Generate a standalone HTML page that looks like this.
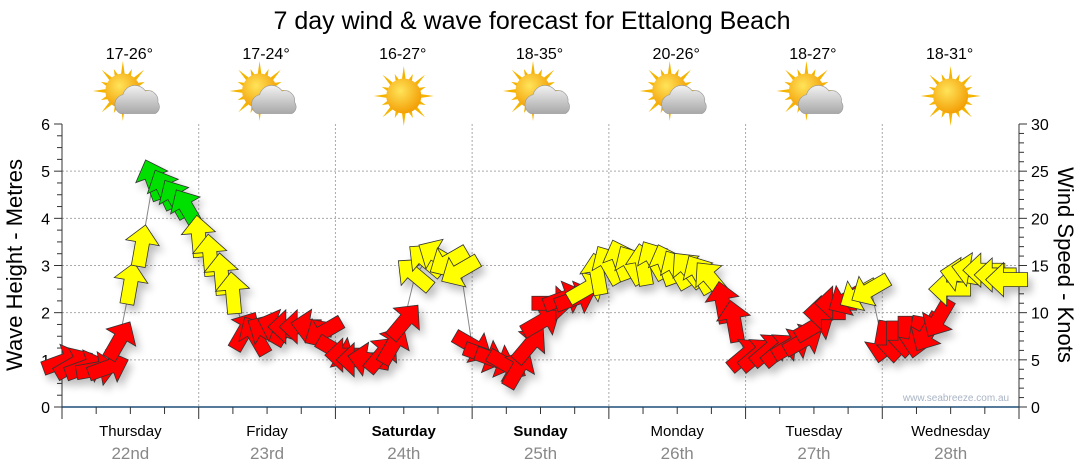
<!DOCTYPE html>
<html><head><meta charset="utf-8"><style>
body{margin:0;background:#fff;font-family:"Liberation Sans",sans-serif}
svg{display:block}
</style></head><body>
<svg id="c" width="1080" height="475" viewBox="0 0 1080 475">
<defs>
<filter id="sh" x="-50%" y="-50%" width="200%" height="200%"><feGaussianBlur in="SourceAlpha" stdDeviation="4"/><feOffset dx="4" dy="6"/><feComponentTransfer><feFuncA type="linear" slope="0.25"/></feComponentTransfer><feMerge><feMergeNode/><feMergeNode in="SourceGraphic"/></feMerge></filter>
<radialGradient id="sun" cx="0.4" cy="0.35" r="0.7"><stop offset="0" stop-color="#ffe45a"/><stop offset="1" stop-color="#f29a00"/></radialGradient>
<linearGradient id="cl" x1="0" y1="0" x2="0" y2="1"><stop offset="0" stop-color="#f2f2f2"/><stop offset="1" stop-color="#a8a8a8"/></linearGradient>
</defs>
<text x="532" y="29" font-size="25" text-anchor="middle">7 day wind &amp; wave forecast for Ettalong Beach</text>
<g id="grid"></g><g id="axes"></g><g id="days"></g><g id="wx"></g>
<polyline id="wl" fill="none" stroke="#888" stroke-width="1"/>
<g id="arrows" filter="url(#sh)"></g>
<text x="956" y="401" font-size="10" fill="#a9b4c4" text-anchor="middle">www.seabreeze.com.au</text>
<text transform="translate(22,265) rotate(-90)" font-size="22" text-anchor="middle">Wave Height - Metres</text>
<text transform="translate(1058,265) rotate(90)" font-size="22" text-anchor="middle">Wind Speed - Knots</text>
</svg>
<script>
const days=["Thursday","Friday","Saturday","Sunday","Monday","Tuesday","Wednesday"];
const dates=["22nd","23rd","24th","25th","26th","27th","28th"];
const temps=["17-26°","17-24°","16-27°","18-35°","20-26°","18-27°","18-31°"];
const icons=["pc","pc","sun","pc","pc","pc","sun"];
const leftTicks=[0,1,2,3,4,5,6];
const rightTicks=[0,5,10,15,20,25,30];
const windKnots=[
4.8,4.5,4.2,4.0,4.2,7,13,17,24,23,22,21,
18,16,14,12,8,7.5,8,8.5,8.5,8.5,8.5,8,
6,5.5,5,5,5.5,6.5,9,14,15.5,16,15.5,14.5,
6.5,5.5,5,4.5,4,6.5,9,11,11.5,11.5,12.5,14,
15,15.5,15,15,15.5,15,14.5,14.5,14,13.5,11,9,
5.5,5.5,6,6,6.5,7,8.5,10,11,11.5,12,12.5,
7,7,7.5,7.5,8,9.5,12.5,14,14.5,14.5,14,13.5];
const windAngle=[
-20,-30,-20,-10,-20,-60,-80,-80,-110,-115,-120,-120,
-95,-95,-95,-95,-60,-120,-150,-160,180,180,-170,150,
30,180,180,-170,-50,-60,-50,-140,-140,-150,150,150,
30,20,20,30,-60,-50,-30,0,-20,-20,-30,-100,
-120,-110,-120,-100,-120,-110,-120,-130,-120,-130,-100,-100,
-40,-40,-40,-40,-30,-30,-30,180,180,150,150,150,
100,90,90,100,120,120,180,-170,-170,180,180,180];
const X0=62,X1=1019,Y0=407,Y1=124,DW=(X1-X0)/7;
const ns="http://www.w3.org/2000/svg";
function el(t,a,p){const e=document.createElementNS(ns,t);for(const k in a)e.setAttribute(k,a[k]);p.appendChild(e);return e;}
const yL=v=>Y0-(v/6)*(Y0-Y1), yR=v=>Y0-(v/30)*(Y0-Y1), xT=h=>X0+h/24*DW;
const g=document.getElementById('grid'),ax=document.getElementById('axes'),dg=document.getElementById('days'),wx=document.getElementById('wx');
leftTicks.forEach(v=>{if(v>0&&v<6){const l=el('line',{x1:X0,x2:X1,y1:yL(v),y2:yL(v),stroke:'#aaa','stroke-dasharray':'2,2'},g);}
 const t=el('text',{x:X0-12,y:yL(v)+6,'font-size':16,'text-anchor':'end'},ax);t.textContent=v;});
rightTicks.forEach(v=>{const t=el('text',{x:X1+12,y:yR(v)+6,'font-size':16},ax);t.textContent=v;});
for(let i=0;i<=24;i++){const y=Y0-i*(Y0-Y1)/24;const L=i%4==0?8:5;el('line',{x1:X0-L,x2:X0,y1:y,y2:y,stroke:'#333'},ax);}
for(let i=0;i<=30;i++){const y=yR(i);const L=i%5==0?8:5;el('line',{x1:X1,x2:X1+L,y1:y,y2:y,stroke:'#333'},ax);}
el('line',{x1:X0,x2:X0,y1:Y1,y2:Y0,stroke:'#333'},ax);el('line',{x1:X1,x2:X1,y1:Y1,y2:Y0,stroke:'#333'},ax);
el('line',{x1:X0,x2:X1,y1:Y0,y2:Y0,stroke:'#1f4e79','stroke-width':1.5},ax);
for(let i=0;i<=28;i++){const x=X0+i*DW/4;el('line',{x1:x,x2:x,y1:Y0,y2:Y0+(i%4==0?12:7),stroke:'#333'},ax);}
days.forEach((d,i)=>{const cx=X0+DW*(i+0.5);
 if(i>0){const l=el('line',{x1:X0+DW*i,x2:X0+DW*i,y1:Y1,y2:Y0,stroke:'#aaa','stroke-dasharray':'2,2'},g);}
 const t=el('text',{x:cx,y:436,'font-size':15,'text-anchor':'middle','font-weight':(i==2||i==3)?'bold':'normal'},dg);t.textContent=d;
 const t2=el('text',{x:cx,y:459,'font-size':17,'text-anchor':'middle',fill:'#888'},dg);t2.textContent=dates[i];
 const t3=el('text',{x:cx-1,y:59,'font-size':16,'text-anchor':'middle'},wx);t3.textContent=temps[i];
 const ic=el('g',{transform:`translate(${cx},96) scale(1.25)`},wx);
 const sx=icons[i]=='sun'?0:-6, sy=icons[i]=='sun'?0:-4;
 for(let k=0;k<16;k++){const a=k*Math.PI/8,r1=13,r2=k%2?19:24;el('polygon',{points:`${sx+Math.cos(a-0.12)*r1},${sy+Math.sin(a-0.12)*r1} ${sx+Math.cos(a)*r2},${sy+Math.sin(a)*r2} ${sx+Math.cos(a+0.12)*r1},${sy+Math.sin(a+0.12)*r1}`,fill:'#f5b400'},ic);}
 el('circle',{cx:sx,cy:sy,r:14,fill:'url(#sun)'},ic);
 if(icons[i]=='pc'){el('path',{d:'M-8,14 a8,8 0 0 1 2,-15 a10,10 0 0 1 18,-3 a8,8 0 0 1 10,9 a6,6 0 0 1 -2,9 z',fill:'url(#cl)',stroke:'#999','stroke-width':0.5},ic);}
});
const pts=[];const ag=document.getElementById('arrows');
windKnots.forEach((k,i)=>{const x=xT(i*2),y=yR(k);pts.push(x+','+y);
 const col=k>=20?'#00e000':k>=12?'#ffff00':'#ff0000';
 const a=el('polygon',{points:'-20,-7 4,-7 4,-17 22,0 4,17 4,7 -20,7',fill:col,stroke:'#333','stroke-width':0.8,transform:`translate(${x},${y}) rotate(${windAngle[i]})`},ag);
 
 
});
document.getElementById('wl').setAttribute('points',pts.join(' '));
</script>
</body></html>
